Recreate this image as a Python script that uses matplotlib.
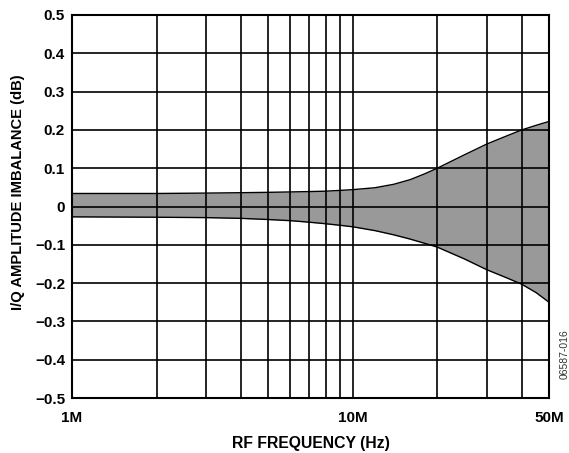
import matplotlib
matplotlib.use("Agg")
import matplotlib.pyplot as plt
from matplotlib.ticker import FixedLocator, NullLocator

plt.rcParams['font.family'] = ['Liberation Sans', 'DejaVu Sans']

freq_mhz = [1, 2, 3, 4, 5, 6, 7, 8, 9, 10, 12, 14, 16, 18, 20, 25, 30, 35, 40, 45, 50]
upper_db = [0.034, 0.034, 0.035, 0.036, 0.037, 0.038, 0.039, 0.040, 0.042, 0.044, 0.049,
            0.058, 0.070, 0.085, 0.100, 0.135, 0.163, 0.183, 0.200, 0.212, 0.222]
lower_db = [-0.027, -0.028, -0.029, -0.031, -0.034, -0.037, -0.041, -0.045, -0.049, -0.053,
            -0.063, -0.074, -0.085, -0.096, -0.106, -0.137, -0.165, -0.185, -0.203, -0.225, -0.250]

grid_x_mhz = [1, 2, 3, 4, 5, 6, 7, 8, 9, 10, 20, 30, 40, 50]
xtick_mhz = [1, 10, 50]
xtick_labels = ['1M', '10M', '50M']
ytick_vals = [-0.5, -0.4, -0.3, -0.2, -0.1, 0, 0.1, 0.2, 0.3, 0.4, 0.5]
ytick_labels = ['\u22120.5', '\u22120.4', '\u22120.3', '\u22120.2', '\u22120.1', '0',
                '0.1', '0.2', '0.3', '0.4', '0.5']

fig = plt.figure(figsize=(5.69, 4.53), dpi=100)
ax = fig.add_axes([0.1265, 0.1214, 0.8384, 0.8455])

f = [v * 1e6 for v in freq_mhz]
ax.fill_between(f, lower_db, upper_db, color='#999999', lw=0, zorder=1)
ax.plot(f, upper_db, color='black', lw=1.0, zorder=3)
ax.plot(f, lower_db, color='black', lw=1.0, zorder=3)

ax.set_xscale('log')
ax.set_xlim(1e6, 50e6)
ax.set_ylim(-0.5, 0.5)

for gx in grid_x_mhz:
    ax.axvline(gx * 1e6, color='black', lw=1.2, zorder=2)
for gy in ytick_vals:
    ax.axhline(gy, color='black', lw=1.2, zorder=2)

ax.xaxis.set_major_locator(FixedLocator([v * 1e6 for v in xtick_mhz]))
ax.xaxis.set_minor_locator(NullLocator())
ax.set_xticklabels(xtick_labels, fontsize=11, fontweight='bold')
ax.set_yticks(ytick_vals)
ax.set_yticklabels(ytick_labels, fontsize=11, fontweight='bold')
ax.tick_params(axis='both', length=0)
ax.tick_params(axis='x', pad=9)
ax.tick_params(axis='y', pad=5)

for s in ax.spines.values():
    s.set_linewidth(1.5)
    s.set_zorder(4)

ax.set_xlabel('RF FREQUENCY (Hz)', fontsize=11.3, fontweight='bold')
ax.set_ylabel('I/Q AMPLITUDE IMBALANCE (dB)', fontsize=10.6, fontweight='bold')
ax.xaxis.set_label_coords(0.5, -0.1)
ax.yaxis.set_label_coords(-0.098, 0.537)

fig.text(0.993, 0.218, '06587-016', rotation=90, fontsize=7.5, ha='center', va='center',
         color='#333333')

fig.savefig('out.png', dpi=100)
